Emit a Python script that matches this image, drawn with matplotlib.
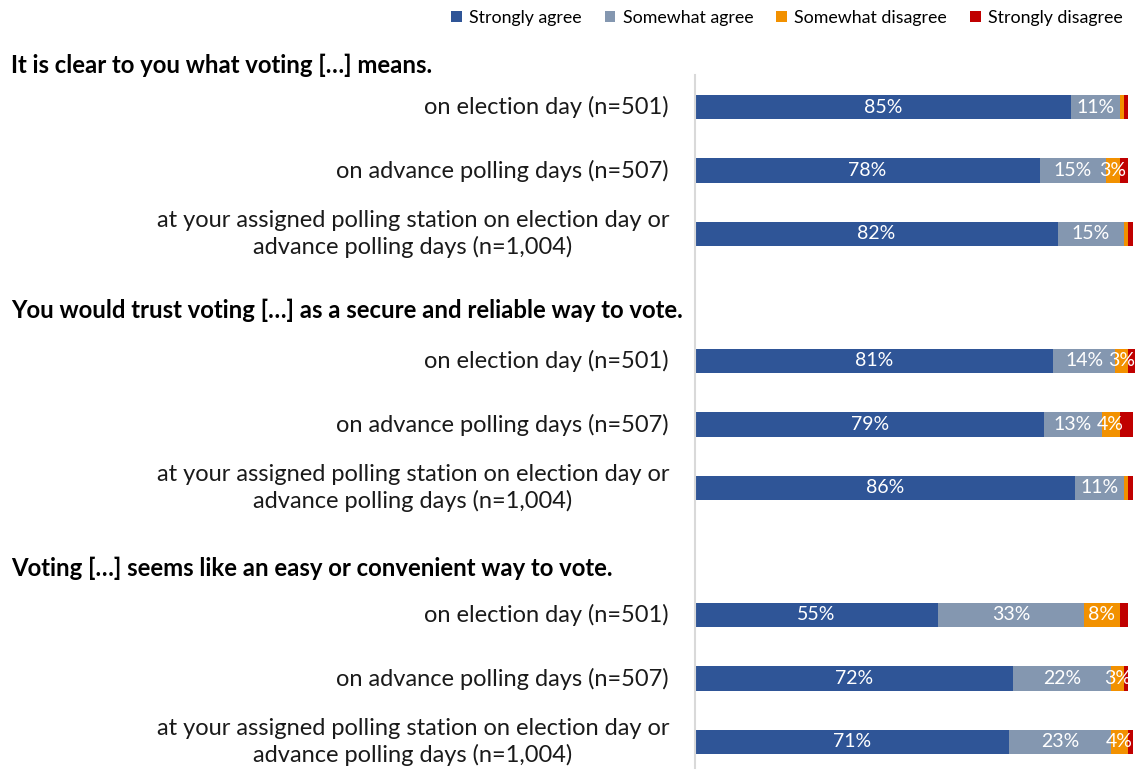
import matplotlib.pyplot as plt
import matplotlib.transforms as mtransforms
from matplotlib.patches import Patch

plt.rcParams['font.family'] = ['Lato', 'DejaVu Sans']

# survey answers, percent of respondents
rows = [
    'on election day (n=501)',
    'on advance polling days (n=507)',
    'at your assigned polling station on election day or\nadvance polling days (n=1,004)',
]
headers = [
    'It is clear to you what voting [\u2026] means.',
    'You would trust voting [\u2026] as a secure and reliable way to vote.',
    'Voting [\u2026] seems like an easy or convenient way to vote.',
]
strongly_agree = [85, 78, 82, 81, 79, 86, 55, 72, 71]
somewhat_agree = [11, 15, 15, 14, 13, 11, 33, 22, 23]
somewhat_disagree = [1, 3, 1, 3, 4, 1, 8, 3, 4]
strongly_disagree = [1, 2, 1, 2, 3, 1, 2, 1, 1]

series = [
    ('Strongly agree', strongly_agree, '#2F5597'),
    ('Somewhat agree', somewhat_agree, '#8497B0'),
    ('Somewhat disagree', somewhat_disagree, '#F29100'),
    ('Strongly disagree', strongly_disagree, '#C00000'),
]

# bar slots: three questions, with an empty slot between groups
slots = [0, 1, 2, 4, 5, 6, 8, 9, 10]
header_pos = [-0.65, 3.2, 7.26]

W, H = 1135, 771
fig = plt.figure(figsize=(W / 100, H / 100), dpi=100)
ax = fig.add_axes([695 / W, 1 - 768 / H, 440 / W, (768 - 75) / H])

left = [0] * len(slots)
for name, vals, color in series:
    ax.barh(slots, vals, left=left, height=0.39, color=color, label=name)
    for y, v, l in zip(slots, vals, left):
        if v >= 3 and name != 'Strongly disagree':
            ax.text(l + v / 2, y, f'{v}%', ha='center', va='center',
                    color='white', fontsize=14)
    left = [a + b for a, b in zip(left, vals)]

ax.set_xlim(0, 99.5)
ax.set_ylim(10.41, -0.504)
ax.set_xticks([])
ax.set_yticks([])
for s in ['top', 'right', 'bottom']:
    ax.spines[s].set_visible(False)
ax.spines['left'].set_color('#D9D9D9')
ax.spines['left'].set_linewidth(1.5)

# row labels to the left of the bars
label_trans = mtransforms.blended_transform_factory(ax.transAxes, ax.transData)
for i, y in enumerate(slots):
    ax.text(-0.059, y, rows[i % 3], transform=label_trans,
            ha='right', va='center', multialignment='center', fontsize=17,
            color='#1a1a1a', linespacing=1.3)

trans = mtransforms.blended_transform_factory(fig.transFigure, ax.transData)
for h, y in zip(headers, header_pos):
    ax.text(11 / W, y, h, transform=trans, ha='left', va='center',
            fontsize=17.2, fontweight='bold', color='black', clip_on=False)

handles = [Patch(facecolor=c, label=n) for n, _, c in series]
fig.legend(handles=handles, loc='upper right', bbox_to_anchor=(1.003, 1.008), ncol=4,
           frameon=False, fontsize=12.8, handlelength=0.6, handleheight=0.6,
           handletextpad=0.4, columnspacing=1.3)

fig.savefig('out.png', dpi=100)
